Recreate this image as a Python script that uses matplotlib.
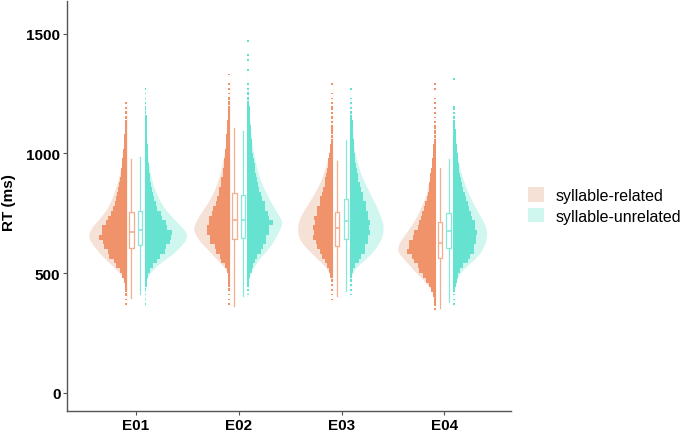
import numpy as np
import matplotlib.pyplot as plt
from matplotlib.patches import Patch

experiments = ["E01", "E02", "E03", "E04"]
conditions = ["syllable-related", "syllable-unrelated"]

# RT histograms: first bin centre (ms) and counts per 20 ms bin
bin_ms = 20
hist_start_related = [370, 370, 390, 350]
hist_start_unrelated = [370, 410, 410, 370]

counts_related = [
    [1, 1, 2, 3, 5, 8, 16, 30, 50, 62, 86, 94, 112, 118, 137, 124, 126, 100, 94, 74,
     68, 55, 52, 43, 41, 32, 30, 24, 23, 18, 17, 14, 12, 10, 8, 7, 5, 4, 3, 2, 2, 1, 1],
    [1, 1, 1, 2, 2, 3, 4, 8, 18, 36, 46, 63, 68, 96, 94, 110, 114, 100, 101, 84,
     80, 65, 62, 49, 47, 38, 36, 28, 28, 23, 22, 17, 16, 13, 12, 10, 8, 7, 5, 4,
     3, 3, 2, 2, 1, 1, 1, 0, 1],
    [1, 1, 1, 1, 2, 4, 10, 22, 32, 50, 57, 76, 80, 94, 88, 97, 87, 91, 77, 76,
     61, 60, 47, 44, 34, 31, 25, 22, 17, 15, 10, 8, 5, 3, 2, 3, 2, 1, 2, 1,
     2, 1, 1, 1, 0, 1],
    [1, 2, 3, 7, 14, 26, 42, 56, 78, 87, 106, 116, 142, 130, 131, 110, 106, 87, 80, 67,
     62, 52, 46, 36, 34, 29, 26, 21, 20, 16, 13, 10, 8, 5, 4, 3, 2, 2, 2, 1,
     1, 1, 1, 1, 1, 0, 1, 1],
]
counts_unrelated = [
    [1, 1, 1, 2, 3, 5, 10, 22, 34, 58, 74, 101, 106, 128, 131, 138, 112, 106, 84, 77,
     59, 54, 42, 39, 29, 27, 21, 20, 15, 14, 10, 11, 8, 10, 6, 7, 5, 4, 3, 3,
     2, 2, 1, 1, 1, 1],
    [1, 1, 2, 3, 6, 14, 22, 34, 42, 64, 72, 88, 90, 106, 104, 126, 106, 101, 87, 82,
     70, 66, 53, 50, 40, 38, 31, 30, 25, 23, 18, 18, 14, 13, 11, 10, 8, 7, 6, 4,
     3, 2, 2, 1, 1, 0, 0, 1, 0, 1, 1, 0, 0, 1],
    [1, 1, 1, 2, 3, 6, 18, 37, 50, 67, 71, 86, 87, 95, 91, 95, 83, 85, 73, 74,
     59, 58, 48, 45, 34, 32, 25, 23, 17, 15, 11, 10, 9, 8, 7, 6, 5, 3, 2, 1,
     1, 1, 0, 1],
    [1, 1, 1, 3, 8, 12, 17, 28, 44, 69, 79, 100, 101, 114, 110, 120, 108, 109, 93, 88,
     75, 72, 58, 54, 44, 41, 33, 29, 23, 21, 16, 15, 11, 12, 9, 8, 6, 4, 3, 2,
     1, 2, 0, 0, 0, 0, 0, 1],
]

# whisker low, Q1, median, Q3, whisker high (ms)
box_related = [
    [395, 605, 670, 754, 977],
    [364, 643, 722, 834, 1105],
    [406, 615, 687, 757, 970],
    [353, 562, 626, 712, 938],
]
box_unrelated = [
    [413, 617, 680, 761, 987],
    [405, 645, 722, 828, 1095],
    [426, 643, 719, 810, 1056],
    [380, 604, 677, 751, 977],
]

dot_colors = ["#F0936A", "#66E2D0"]
violin_colors = ["#F6E1D6", "#CFF6EF"]
box_colors = ["#F4AE8E", "#85E8DB"]

plt.rcParams["font.family"] = ["Liberation Sans", "DejaVu Sans"]


def smooth(start, counts, sigma=20.0):
    c = np.asarray(counts, float)
    centres = start + bin_ms * np.arange(len(c))
    nz = centres[c > 0]
    ys = np.arange(nz.min() - bin_ms / 2, nz.max() + bin_ms / 2 + 1, 2.0)
    d = (c[None, :] * np.exp(-0.5 * ((ys[:, None] - centres[None, :]) / sigma) ** 2)).sum(1)
    return ys, d / c.sum()


fig = plt.figure(figsize=(6.85, 4.35), dpi=100)
ax = fig.add_axes([0.0983, 0.0529, 0.6473, 0.9425])

px = 1 / 102.9          # one pixel in x data units
gap = 8.8 * px          # centre -> flat edge of half violin
violin_w = 42 * px

groups = [
    (-1, hist_start_related, counts_related, box_related, 0),
    (1, hist_start_unrelated, counts_unrelated, box_unrelated, 1),
]

dens = {}
for side, starts, counts, boxes, k in groups:
    for i in range(len(experiments)):
        dens[(k, i)] = smooth(starts[i], counts[i])
dmax = max(d.max() for _, d in dens.values())

for side, starts, counts, boxes, k in groups:
    for i, name in enumerate(experiments):
        pos = i + 1
        base = pos + side * gap
        ys, d = dens[(k, i)]
        ax.fill_betweenx(ys, base, base + side * d / dmax * violin_w,
                         color=violin_colors[k], lw=0, zorder=1)

        c = np.asarray(counts[i], float)
        centres = starts[i] + bin_ms * np.arange(len(c))
        keep = c > 0
        bw = (1.5 + 0.19 * c[keep]) * px
        bh = np.minimum(bin_ms, 7 * c[keep])
        left = base if side > 0 else base - bw
        ax.barh(centres[keep], bw, height=bh, left=left,
                color=dot_colors[k], lw=0, zorder=2)

        lo, q1, med, q3, hi = boxes[i]
        stats = [dict(whislo=lo, q1=q1, med=med, q3=q3, whishi=hi)]
        ax.bxp(stats, positions=[pos + side * 4.3 * px], widths=4.5 * px,
               showfliers=False, showcaps=False, patch_artist=True,
               manage_ticks=False,
               boxprops=dict(facecolor="white", edgecolor=box_colors[k], linewidth=0.9),
               whiskerprops=dict(color=box_colors[k], linewidth=0.9),
               medianprops=dict(color=box_colors[k], linewidth=1.2),
               zorder=3)

ax.set_xlim(0.335, 4.645)
ax.set_ylim(-76.5, 1637)
ax.set_xticks(range(1, 5))
ax.set_xticklabels(experiments, fontsize=11, fontweight="bold")
ax.set_yticks([0, 500, 1000, 1500])
ax.set_yticklabels(["0", "500", "1000", "1500"], fontsize=11, fontweight="bold")
ax.tick_params(length=3, width=0.8, color="#555555", pad=2)
for s in ["top", "right"]:
    ax.spines[s].set_visible(False)
for s in ["left", "bottom"]:
    ax.spines[s].set_color("#555555")
    ax.spines[s].set_linewidth(1.0)

fig.text(9 / 685, 1 - 203 / 435, "RT (ms)", rotation=90, ha="center", va="center",
         fontsize=11, fontweight="bold")

handles = [Patch(facecolor=violin_colors[0], edgecolor="none"),
           Patch(facecolor=violin_colors[1], edgecolor="none")]
fig.legend(handles, conditions, loc="center left",
           bbox_to_anchor=(528 / 685, 1 - 206.5 / 435), frameon=False,
           fontsize=11.5, handlelength=1.0, handleheight=1.0,
           handletextpad=0.7, labelspacing=0.3, borderaxespad=0, borderpad=0)

fig.savefig("out.png", dpi=100)
